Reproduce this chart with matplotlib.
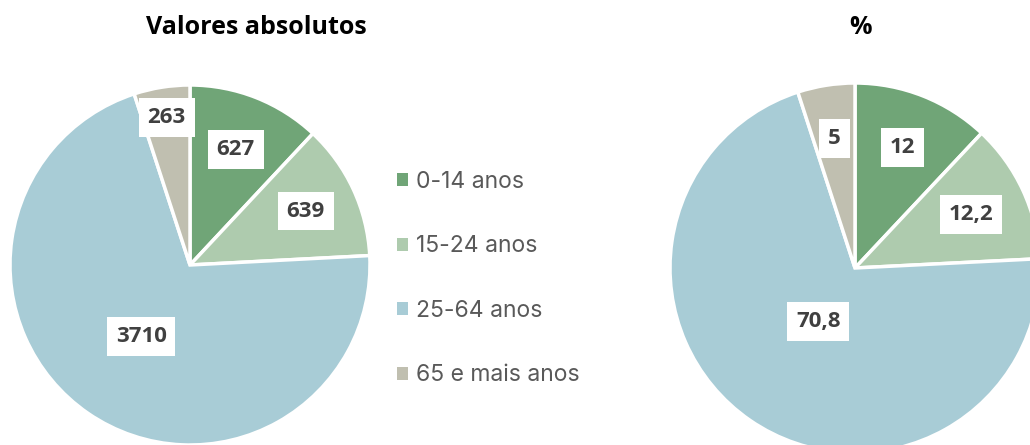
import numpy as np
import matplotlib
matplotlib.use("Agg")
import matplotlib.pyplot as plt
from matplotlib.patches import Patch

plt.rcParams['font.family'] = ['Open Sans', 'DejaVu Sans']

grupos = ['0-14 anos', '15-24 anos', '25-64 anos', '65 e mais anos']
absolutos = [627, 639, 3710, 263]
percent = [12, 12.2, 70.8, 5]
rot_abs = ['627', '639', '3710', '263']
rot_pct = ['12', '12,2', '70,8', '5']
cores = ['#70a577', '#aecbae', '#a8ccd6', '#c0bfb0']

W, H = 1030, 445
fig = plt.figure(figsize=(W / 100, H / 100), dpi=100)


def pie_axes(cx, cy, r):
    # cx, cy, r in pixels (cy from top)
    return fig.add_axes([(cx - r) / W, (H - cy - r) / H, 2 * r / W, 2 * r / H])


def draw_pie(ax, vals, labels, fracs):
    wedges, _ = ax.pie(vals, colors=cores, startangle=90, counterclock=False,
                       radius=1, wedgeprops=dict(edgecolor='white', linewidth=2.5))
    for w, lab, f in zip(wedges, labels, fracs):
        ang = np.deg2rad((w.theta1 + w.theta2) / 2)
        ax.text(f * np.cos(ang), f * np.sin(ang), lab, ha='center', va='center',
                fontsize=16, fontweight='bold', color='#404040',
                bbox=dict(boxstyle='square,pad=0.4', fc='white', ec='none'))
    ax.set_xlim(-1, 1)
    ax.set_ylim(-1, 1)
    ax.set_aspect('equal')
    ax.axis('off')
    return wedges


ax1 = pie_axes(190, 265, 180)
draw_pie(ax1, absolutos, rot_abs, [0.69, 0.71, 0.48, 0.83])

ax2 = pie_axes(855, 268, 185)
draw_pie(ax2, percent, rot_pct, [0.70, 0.69, 0.35, 0.71])

fig.text(256 / W, 1 - 28 / H, 'Valores absolutos', ha='center', va='center',
         fontsize=18, fontweight='bold', color='black')
fig.text(860 / W, 1 - 28 / H, '%', ha='center', va='center',
         fontsize=18, fontweight='bold', color='black')

handles = [Patch(facecolor=c, edgecolor='none') for c in cores]
leg = fig.legend(handles, grupos, loc='upper left', bbox_to_anchor=(397 / W, 1 - 171 / H),
                 frameon=False, handlelength=0.5, handleheight=0.5,
                 handletextpad=0.35, labelspacing=1.85, borderpad=0, borderaxespad=0,
                 prop=dict(family=['Inter', 'Open Sans'], size=16.5))
for t in leg.get_texts():
    t.set_color('#595959')

fig.savefig('out.png', dpi=100)
